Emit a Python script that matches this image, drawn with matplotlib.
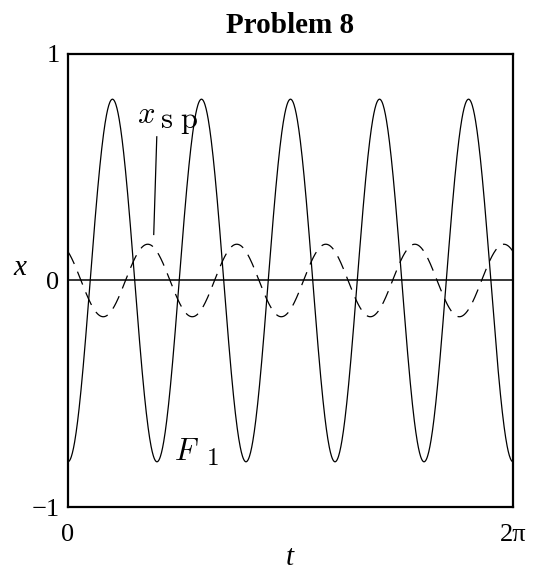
import numpy as np
import matplotlib
matplotlib.use("Agg")
import matplotlib.pyplot as plt

plt.rcParams["mathtext.fontset"] = "cm"
plt.rcParams["lines.scale_dashes"] = False

# forcing term F1 = -A cos(w t) and steady-state response x_sp = B cos(w t + phi)
omega = 5
force_amp = 0.8
xsp_amp = 0.16
xsp_phase = 0.65

t = np.linspace(0, 2 * np.pi, 1200)
force = -force_amp * np.cos(omega * t)
x_sp = xsp_amp * np.cos(omega * t + xsp_phase)

xtick_vals = [0, 2 * np.pi]
xtick_labels = ["0", "2\u03c0"]
ytick_vals = [-1, 0, 1]
ytick_labels = ["\u22121", "0", "1"]

fig = plt.figure(figsize=(5.35, 5.73), dpi=100)
ax = fig.add_axes([0.127, 0.115, 0.832, 0.791])

ax.plot(t, force, color="black", lw=0.9)
ax.plot(t, x_sp, color="black", lw=0.9, dashes=(10, 6))
ax.axhline(0, color="black", lw=1.1)

ax.set_xlim(0, 2 * np.pi)
ax.set_ylim(-1, 1)
for s in ax.spines.values():
    s.set_linewidth(1.6)

ax.set_xticks(xtick_vals)
ax.set_xticklabels(xtick_labels, family="Liberation Serif", fontsize=19)
ax.set_yticks(ytick_vals)
ax.set_yticklabels(ytick_labels, family="Liberation Serif", fontsize=19)
ax.tick_params(axis="x", length=0, pad=12)
ax.tick_params(axis="y", length=0, pad=6)

ax.set_title("Problem 8", family="Liberation Serif", fontweight="bold",
             fontsize=21, pad=15)

fig.text(0.037, 0.532, "x", family="Liberation Serif", style="italic",
         fontsize=21, ha="center", va="center")
fig.text(0.542, 0.003, "t", family="Liberation Serif", style="italic",
         fontsize=21, ha="center", va="bottom")

# curve labels
ax.text(0.97, 0.696, r"$x$", fontsize=22, ha="left", va="baseline")
ax.text(1.30, 0.674, r"$\mathrm{s\ p}$", fontsize=22, ha="left", va="baseline")
ax.plot([1.254, 1.211], [0.634, 0.203], color="black", lw=0.9)
ax.text(1.49, -0.793, r"$F$", fontsize=22, ha="left", va="baseline")
ax.text(1.944, -0.815, r"$\mathrm{1}$", fontsize=18, ha="left", va="baseline")

fig.savefig("out.png", dpi=100)
